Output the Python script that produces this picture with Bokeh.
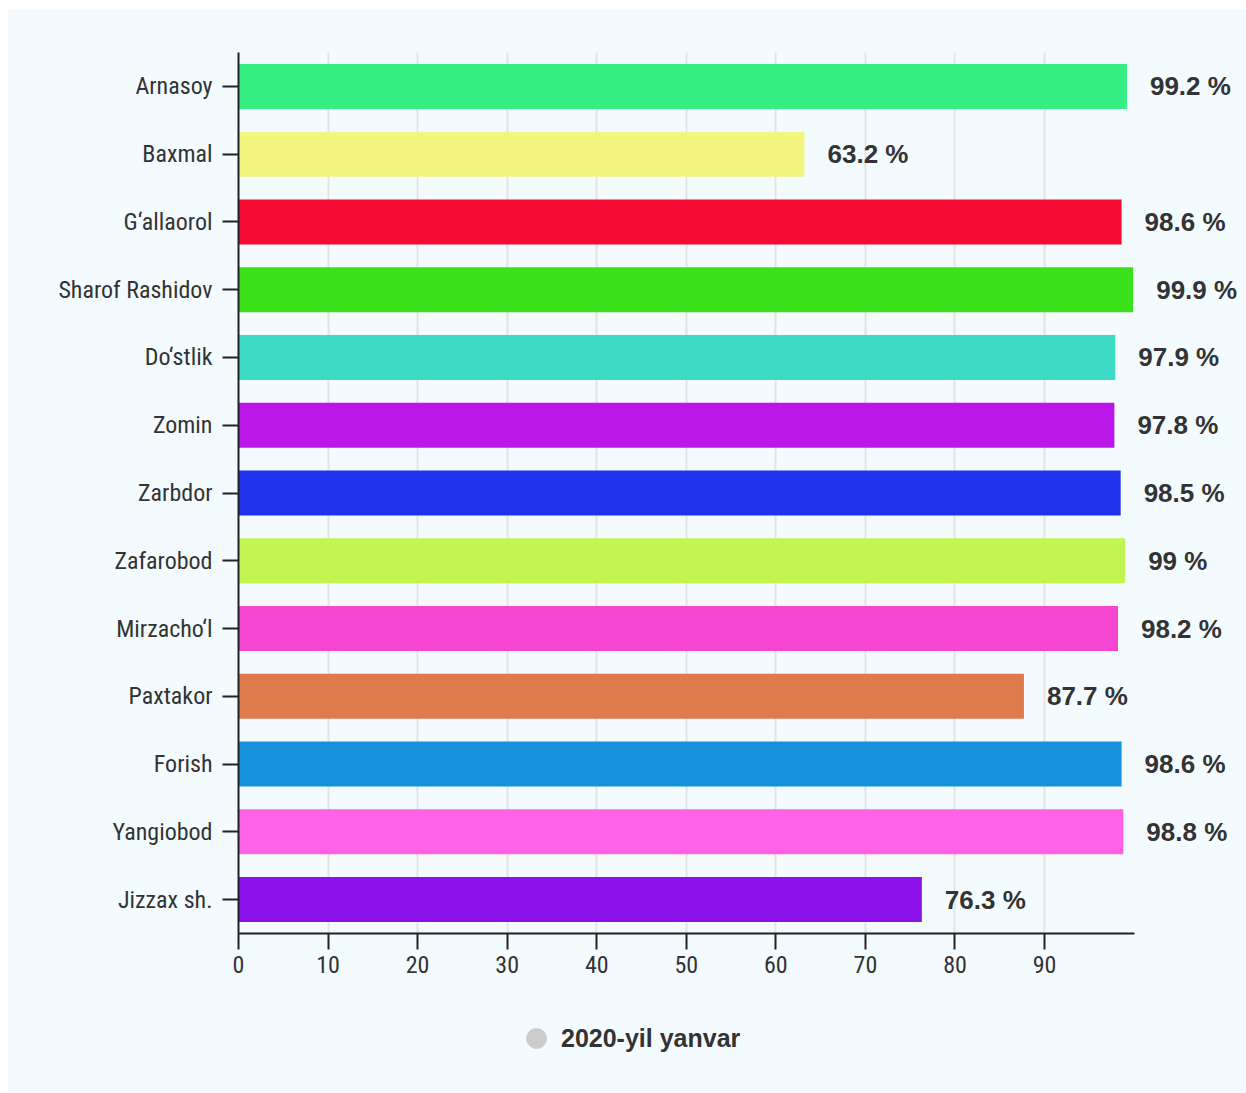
from bokeh.plotting import figure
from bokeh.layouts import column
from bokeh.models import ColumnDataSource, FixedTicker, Legend, LegendItem, LabelSet, Range1d
from bokeh.core.properties import value
from bokeh.embed import file_html
from bokeh.resources import INLINE

categories = ["Arnasoy", "Baxmal", "G\u2018allaorol", "Sharof Rashidov", "Do\u2018stlik", "Zomin",
              "Zarbdor", "Zafarobod", "Mirzacho\u2018l", "Paxtakor", "Forish", "Yangiobod", "Jizzax sh."]
values = [99.2, 63.2, 98.6, 99.9, 97.9, 97.8, 98.5, 99, 98.2, 87.7, 98.6, 98.8, 76.3]
colors = ["#36ef84", "#f2f57e", "#f50a32", "#3ae01a", "#3ddbc6", "#bb16e8", "#2033ec",
          "#c3f550", "#f545d1", "#e07a4c", "#1591dc", "#ff62e6", "#8a12e8"]
x_ticks = [0, 10, 20, 30, 40, 50, 60, 70, 80, 90]
x_max = 100
series_name = "2020-yil yanvar"

labels = [("%g %%" % v) for v in values]
src = ColumnDataSource(dict(cat=categories, val=values, color=colors, label=labels))

BG = "#f4fbff"
TICK_FONT = "'Roboto Condensed', 'Roboto', sans-serif"

p = figure(y_range=list(reversed(categories)), x_range=Range1d(0, 112.55),
           width=1238, height=984, output_backend="svg", toolbar_location=None,
           min_border_left=230, min_border_right=0, min_border_top=43, min_border_bottom=60)
p.background_fill_color = BG
p.border_fill_color = BG
p.outline_line_color = None

p.hbar(y="cat", right="val", left=0, height=0.664, color="color", source=src, line_color=None)

lbl = LabelSet(x="val", y="cat", text="label", source=src, x_offset=23, y_offset=0,
               text_baseline="middle", text_font=value("Liberation Sans"), text_font_style="bold",
               text_font_size="26px", text_color="#333333")
p.add_layout(lbl)

p.xaxis.ticker = FixedTicker(ticks=x_ticks)
p.xaxis.bounds = (0, x_max)
p.xgrid.ticker = FixedTicker(ticks=x_ticks)
p.xgrid.grid_line_color = "#e4e4e4"
p.xgrid.grid_line_width = 2
p.ygrid.grid_line_color = None

for ax in (p.xaxis, p.yaxis):
    ax.axis_line_color = "#222222"
    ax.axis_line_width = 2
    ax.major_tick_line_color = "#222222"
    ax.major_tick_line_width = 2
    ax.major_tick_out = 16
    ax.major_tick_in = 0
    ax.minor_tick_line_color = None
    ax.major_label_text_font = TICK_FONT
    ax.major_label_text_font_size = "24px"
    ax.major_label_text_color = "#333333"
p.yaxis.major_label_standoff = 10
p.xaxis.major_label_standoff = 6

# legend strip
lf = figure(width=1238, height=100, x_range=Range1d(0, 1), y_range=Range1d(0, 1),
            x_axis_type=None, y_axis_type=None,
            output_backend="svg", toolbar_location=None,
            min_border_left=0, min_border_right=0, min_border_top=0, min_border_bottom=0)
lf.background_fill_color = BG
lf.border_fill_color = BG
lf.outline_line_color = None
lf.grid.visible = False
dummy = lf.scatter(x=[float("nan")], y=[float("nan")], size=20, color="#cccccc", marker="circle")
legend = Legend(items=[LegendItem(label=series_name, renderers=[dummy])],
                location=(273, 30), orientation="horizontal",
                glyph_width=50, glyph_height=50, label_standoff=0,
                label_text_font="Liberation Sans", label_text_font_style="bold",
                label_text_font_size="25px", label_text_color="#333333",
                background_fill_alpha=0, border_line_color=None,
                margin=0, padding=0)
lf.add_layout(legend, "center")

layout = column(p, lf, spacing=0)
layout.margin = (9, 0, 0, 8)
layout.styles = {"background-color": BG}

open("out.html", "w").write(file_html(layout, INLINE))
